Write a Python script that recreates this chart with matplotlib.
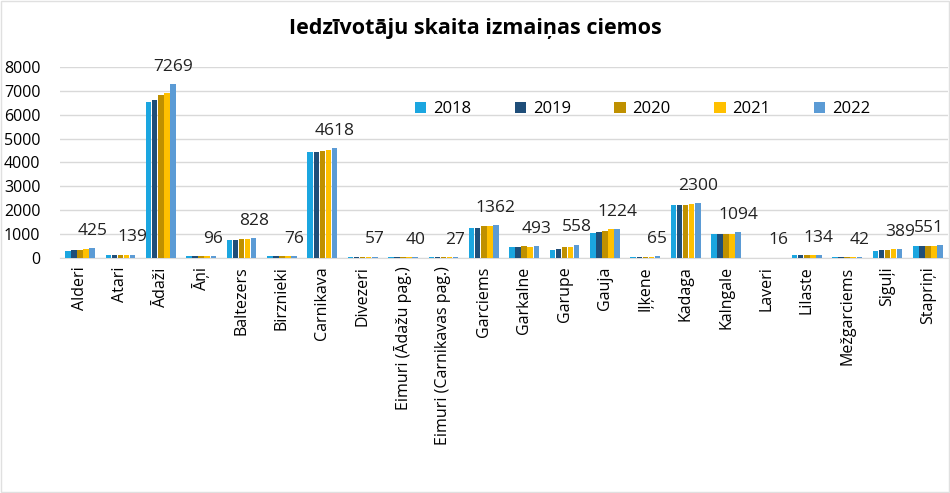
import numpy as np
import matplotlib.pyplot as plt
from matplotlib.patches import Rectangle

plt.rcParams['font.family'] = ['Open Sans', 'DejaVu Sans']

villages = ["Alderi", "Atari", "Ādaži", "Āņi", "Baltezers", "Birznieki", "Carnikava",
            "Divezeri", "Eimuri (Ādažu pag.)", "Eimuri (Carnikavas pag.)", "Garciems",
            "Garkalne", "Garupe", "Gauja", "Iļķene", "Kadaga", "Kalngale", "Laveri",
            "Lilaste", "Mežgarciems", "Siguļi", "Stapriņi"]
years = ["2018", "2019", "2020", "2021", "2022"]

v2018 = [310, 130, 6550, 90, 740, 75, 4420, 52, 38, 25, 1250, 460, 330, 1060, 30, 2200, 1000, 15, 115, 40, 310, 500]
v2019 = [340, 130, 6620, 90, 740, 75, 4420, 54, 38, 25, 1270, 460, 360, 1080, 55, 2220, 1020, 15, 115, 40, 320, 510]
v2020 = [340, 125, 6830, 90, 790, 75, 4460, 55, 39, 26, 1320, 490, 440, 1140, 40, 2210, 1020, 15, 110, 41, 340, 500]
v2021 = [370, 120, 6930, 90, 810, 75, 4530, 56, 39, 26, 1320, 460, 440, 1200, 60, 2240, 1010, 16, 110, 41, 360, 500]
v2022 = [425, 139, 7269, 96, 828, 76, 4618, 57, 40, 27, 1362, 493, 558, 1224, 65, 2300, 1094, 16, 134, 42, 389, 551]

series = [v2018, v2019, v2020, v2021, v2022]
colors = ["#1BA6E0", "#1F4E79", "#BF9000", "#FFC000", "#5B9BD5"]

fig = plt.figure(figsize=(9.5, 4.93), dpi=100)
ax = fig.add_axes([0.063, 0.4767, 0.935, 0.3875])

x = np.arange(len(villages))
w = 0.135
for i, (vals, c, yr) in enumerate(zip(series, colors, years)):
    ax.bar(x + (i - 2) * 0.15, vals, width=w, color=c, label=yr, zorder=3)

# value labels of the last year, shifted right of each group
for xi, v in zip(x, v2022):
    dx = 0.3 if xi < len(villages) - 1 else 0.02
    ax.text(xi + dx, v + 720, str(v), ha='center', va='center', fontsize=12.5, color='#222222')

ax.set_xlim(-0.5, len(villages) - 0.5)
ax.set_ylim(0, 8000)
ax.set_yticks(range(0, 8001, 1000))
ax.tick_params(axis='y', labelsize=11.5, length=0, pad=14)
ax.set_xticks(x)
ax.set_xticklabels(villages, rotation=90, fontsize=11.5)
ax.tick_params(axis='x', length=0, pad=6)
ax.yaxis.grid(True, color='#D9D9D9', linewidth=1, zorder=0)
for s in ['top', 'right', 'left']:
    ax.spines[s].set_visible(False)
ax.spines['bottom'].set_color('#D9D9D9')

ax.legend(loc='upper left', bbox_to_anchor=(0.392, 0.855), ncol=5, frameon=False,
          fontsize=12, handlelength=0.7, handleheight=0.7, columnspacing=2.6,
          handletextpad=0.4, borderaxespad=0)

fig.text(0.5, 0.943, "Iedzīvotāju skaita izmaiņas ciemos", ha='center', va='center',
         fontsize=15.5, fontweight='bold')

fig.patches.append(Rectangle((0.001, 0.002), 0.998, 0.996, transform=fig.transFigure,
                             fill=False, edgecolor='#E0E0E0', linewidth=1))

fig.savefig("out.png", dpi=100)
